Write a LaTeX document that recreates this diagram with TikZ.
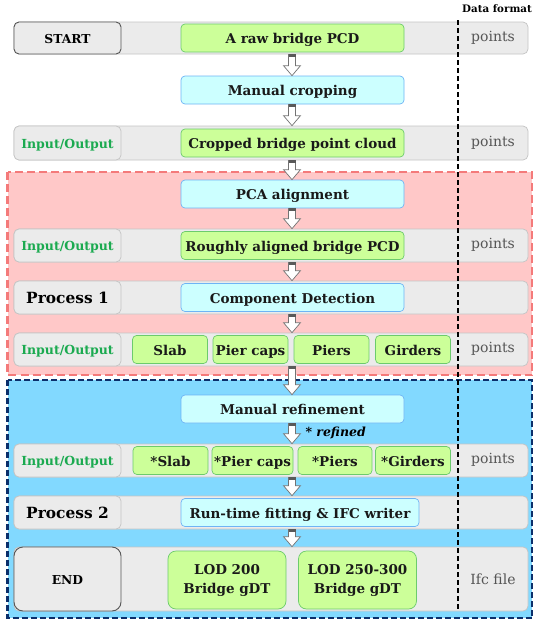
\documentclass[tikz,border=0pt]{standalone}
\usepackage{fontspec}
\setmainfont{DejaVu Serif}
\usetikzlibrary{calc}
\definecolor{bandfill}{HTML}{EBEBEB}
\definecolor{bandline}{HTML}{C4C4C4}
\definecolor{tagdark}{HTML}{555555}
\definecolor{datafill}{HTML}{CCFF99}
\definecolor{dataline}{HTML}{6CCB6C}
\definecolor{procfill}{HTML}{CCFFFF}
\definecolor{procline}{HTML}{6EB4F5}
\definecolor{iogreen}{HTML}{1BAA50}
\definecolor{fmtgray}{HTML}{555555}
\definecolor{redfill}{HTML}{FFC8C8}
\definecolor{redline}{HTML}{F47A7A}
\definecolor{bluefill}{HTML}{82D9FF}
\definecolor{blueline}{HTML}{0B2F6B}
\newcommand{\flowarrow}[2]{%
  \draw[blockarrow] let \p0=(spine), \p1=(#1.south), \p2=(#2.north) in
    (\x0-3.5pt,\y1) -- (\x0-3.5pt,\y2+10pt) -- (\x0-8.5pt,\y2+10pt) -- (\x0,\y2)
    -- (\x0+8.5pt,\y2+10pt) -- (\x0+3.5pt,\y2+10pt) -- (\x0+3.5pt,\y1) -- cycle;
  \fill[arrowcap] let \p0=(spine), \p1=(#1.south) in
    (\x0-3.5pt,\y1) rectangle (\x0+3.5pt,\y1-3pt);
}

\begin{document}
\begin{tikzpicture}[x=1pt, y=-1pt,
  band/.style={draw=bandline, fill=bandfill, rounded corners=5pt, line width=0.7pt, minimum width=514pt, minimum height=#1, inner sep=0pt},
  band/.default=33pt,
  tag/.style={draw=bandline, fill=bandfill, rounded corners=5pt, line width=0.7pt, minimum width=107pt, minimum height=#1, inner sep=0pt, text height=10pt, text depth=0pt, text=black, font=\bfseries\fontsize{12.3}{14}\selectfont},
  tag/.default=33pt,
  io/.style={tag=#1, text=iogreen, text height=10.5pt, font=\bfseries\fontsize{12.5}{14}\selectfont},
  io/.default=33pt,
  endpt/.style={tag=#1, draw=tagdark, line width=0.9pt},
  endpt/.default=33pt,
  procname/.style={tag=#1, text height=11.6pt, font=\bfseries\fontsize{15.4}{17}\selectfont},
  procname/.default=33pt,
  data/.style={draw=dataline, fill=datafill, rounded corners=4pt, line width=0.7pt, minimum width=223pt, minimum height=28pt, inner sep=0pt, text height=11pt, text depth=0pt, text=black!90, font=\bfseries\fontsize{13.5}{15}\selectfont},
  proc/.style={data, draw=procline, fill=procfill},
  part/.style={data, minimum width=#1},
  part/.default=75pt,
  lod/.style={data, minimum width=118pt, minimum height=58pt, rounded corners=8pt, align=center, text height=, text depth=, font=\bfseries\fontsize{13.5}{19}\selectfont},
  fmt/.style={text=fmtgray, font=\fontsize{14}{16}\selectfont},
  note/.style={text=black, font=\bfseries\itshape\fontsize{12.5}{14}\selectfont},
  blockarrow/.style={draw=black!55, fill=white, line width=0.7pt},
  arrowcap/.style={fill=black!65},
  redzone/.style={draw=redline, fill=redfill, line width=2.2pt, dash pattern=on 8pt off 4pt},
  bluezone/.style={draw=blueline, fill=bluefill, line width=2.2pt, dash pattern=on 6pt off 3pt},
  sepline/.style={draw=black, line width=1.1pt, dash pattern=on 5pt off 3pt}]

\useasboundingbox (0,0) rectangle (533,624);

\draw[redzone] (7.5,172) rectangle (532,375);
\draw[bluezone] (7.5,380) rectangle (532,618);

\coordinate (spine) at (292,0);

\node[band=32pt] (r1) at (271,38) {};
\node[endpt=32pt] (start) at (67.5,38) {START};
\node[data] (raw) at (292.5,38) {A raw bridge PCD};
\node[fmt] (f1) at (493,37.5) {points};

\node[proc] (crop) at (292.5,90) {Manual cropping};

\node[band=34pt] (r3) at (271,143) {};
\node[io=34pt] (io3) at (67.5,143) {Input/Output};
\node[data] (cropped) at (292.5,143) {Cropped bridge point cloud};
\node[fmt] (f3) at (493,142.5) {points};

\node[proc] (pca) at (292.5,194) {PCA alignment};

\node[band] (r5) at (271,245.5) {};
\node[io] (io5) at (67.5,245.5) {Input/Output};
\node[data] (aligned) at (292.5,245.5) {Roughly aligned bridge PCD};
\node[fmt] (f5) at (493,245) {points};

\node[band] (r6) at (271,297.5) {};
\node[procname] (p1) at (67.5,297.5) {Process 1};
\node[proc] (detect) at (292.5,297.5) {Component Detection};

\node[band] (r7) at (271,349.5) {};
\node[io] (io7) at (67.5,349.5) {Input/Output};
\node[part] (slab) at (170,349.5) {Slab};
\node[part] (caps) at (250.5,349.5) {Pier caps};
\node[part] (piers) at (331.5,349.5) {Piers};
\node[part] (girders) at (413,349.5) {Girders};
\node[fmt] (f7) at (493,349) {points};

\node[proc] (refine) at (292.5,409) {Manual refinement};

\node[band] (r9) at (271,460.5) {};
\node[io] (io9) at (67.5,460.5) {Input/Output};
\node[part] (rslab) at (170.5,460.5) {*Slab};
\node[part=81pt] (rcaps) at (252.5,460.5) {*Pier caps};
\node[part=74pt] (rpiers) at (335,460.5) {*Piers};
\node[part] (rgirders) at (413,460.5) {*Girders};
\node[fmt] (f9) at (493,460) {points};

\node[band] (r10) at (271,512.5) {};
\node[procname] (p2) at (67.5,512.5) {Process 2};
\node[proc, minimum width=238pt] (fit) at (300,512.5) {Run-time fitting \& IFC writer};

\node[band=64pt] (r11) at (271,579) {};
\node[endpt=64pt, rounded corners=9pt] (finish) at (67.5,579) {END};
\node[lod] (lod2) at (227,580) {LOD 200\\Bridge gDT};
\node[lod] (lod3) at (357.5,580) {LOD 250-300\\Bridge gDT};
\node[fmt] (f11) at (493,579) {Ifc file};

\flowarrow{r1}{crop}
\flowarrow{crop}{r3}
\flowarrow{r3}{pca}
\flowarrow{pca}{r5}
\flowarrow{r5}{r6}
\flowarrow{r6}{r7}
\flowarrow{r7}{refine}
\flowarrow{refine}{r9}
\flowarrow{r9}{r10}
\flowarrow{r10}{r11}

\node[note, anchor=west] (refnote) at ($(spine |- refine.south)+(10,10)$) {* refined};

\coordinate (dtop) at (458,20);
\coordinate (dbot) at (458,611);
\draw[sepline] (dtop) -- (dbot);
\node[font=\bfseries\fontsize{10.3}{12}\selectfont] (dfmt) at (497,9) {Data format};
\end{tikzpicture}
\end{document}
